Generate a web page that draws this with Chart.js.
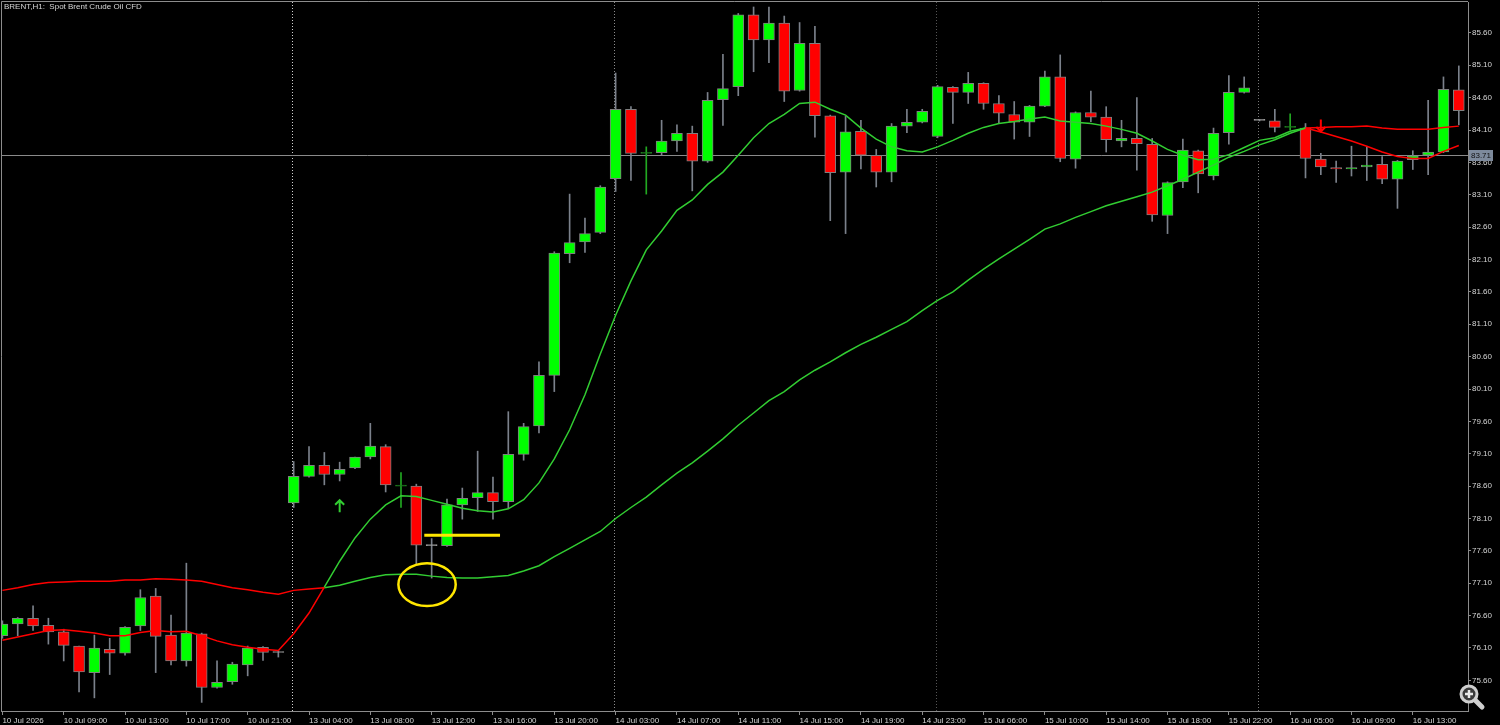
<!DOCTYPE html>
<html>
<head>
<meta charset="utf-8">
<title>BRENT, H1</title>
<script src="https://cdn.jsdelivr.net/npm/chart.js@4.4.1/dist/chart.umd.min.js"></script>
<style>
  html, body { margin: 0; padding: 0; background: #000; overflow: hidden; }
  #wrap { width: 1500px; height: 725px; }
</style>
</head>
<body>
<div id="wrap"><canvas id="chart" width="1500" height="725"></canvas></div>
<script>
// ---------- Data (H1 bars) ----------
const timeLabels = [
  "10 Jul 2026", "10 Jul 09:00", "10 Jul 13:00", "10 Jul 17:00", "10 Jul 21:00",
  "13 Jul 04:00", "13 Jul 08:00", "13 Jul 12:00", "13 Jul 16:00", "13 Jul 20:00",
  "14 Jul 03:00", "14 Jul 07:00", "14 Jul 11:00", "14 Jul 15:00", "14 Jul 19:00",
  "14 Jul 23:00", "15 Jul 06:00", "15 Jul 10:00", "15 Jul 14:00", "15 Jul 18:00",
  "15 Jul 22:00", "16 Jul 05:00", "16 Jul 09:00", "16 Jul 13:00"
];

const priceTicks = [75.60, 76.10, 76.60, 77.10, 77.60, 78.10, 78.60, 79.10, 79.60, 80.10, 80.60,
  81.10, 81.60, 82.10, 82.60, 83.10, 83.60, 84.10, 84.60, 85.10, 85.60];

const opens = [76.29, 76.47, 76.56, 76.45, 76.35, 76.13, 75.72, 76.08, 76.02, 76.44,
  76.90, 76.30, 75.90, 76.32, 75.49, 75.58, 75.84, 76.11, 76.03, 78.34,
  78.75, 78.92, 78.78, 78.88, 79.05, 79.21, 78.60, 78.60, 77.68, 77.68,
  78.31, 78.42, 78.50, 78.36, 79.09, 79.53, 80.31, 82.19, 82.37, 82.52,
  83.35, 84.42, 83.74, 83.75, 83.93, 84.05, 83.62, 84.57, 84.77, 85.88,
  85.49, 85.75, 84.71, 85.44, 84.32, 83.45, 84.08, 83.71, 83.45, 84.16,
  84.22, 84.00, 84.76, 84.68, 84.82, 84.51, 84.34, 84.22, 84.47, 84.92,
  83.65, 84.37, 84.30, 83.93, 83.97, 83.88, 82.78, 83.30, 83.78, 83.39,
  84.06, 84.68, 84.25, 84.24, 84.14, 84.13, 83.65, 83.52, 83.50, 83.53,
  83.57, 83.34, 83.64, 83.71, 83.76, 84.72];

const highs = [76.52, 76.57, 76.75, 76.56, 76.39, 76.13, 76.30, 76.25, 76.43, 77.00,
  77.02, 76.61, 77.41, 76.33, 75.90, 75.88, 76.13, 76.12, 76.06, 78.98,
  79.21, 79.12, 78.97, 79.05, 79.57, 79.24, 78.81, 78.63, 77.79, 78.40,
  78.57, 79.14, 78.74, 79.75, 79.57, 80.52, 82.22, 83.11, 82.74, 83.24,
  84.98, 84.46, 83.84, 84.25, 84.18, 84.16, 84.68, 85.27, 85.90, 86.00,
  86.00, 85.86, 85.76, 85.70, 84.33, 84.31, 84.25, 83.80, 84.20, 84.42,
  84.42, 84.79, 84.77, 84.99, 84.83, 84.63, 84.54, 84.48, 85.01, 85.26,
  84.38, 84.70, 84.46, 84.25, 84.60, 83.97, 83.30, 83.96, 83.79, 84.13,
  84.94, 84.92, 84.26, 84.42, 84.35, 84.20, 83.74, 83.62, 83.85, 83.84,
  83.69, 83.63, 83.78, 84.56, 84.92, 85.09];

const lows = [76.25, 76.29, 76.37, 76.16, 75.90, 75.42, 75.33, 75.69, 75.99, 76.37,
  75.72, 75.84, 75.82, 75.26, 75.48, 75.54, 75.67, 75.91, 75.96, 78.27,
  78.74, 78.62, 78.68, 78.87, 79.02, 78.51, 78.27, 77.40, 77.18, 77.67,
  78.09, 78.21, 78.09, 78.26, 79.00, 79.42, 80.06, 82.05, 82.21, 82.50,
  83.15, 83.32, 83.11, 83.71, 83.77, 83.16, 83.60, 84.17, 84.63, 85.00,
  85.14, 84.54, 84.70, 83.99, 82.70, 82.50, 83.50, 83.22, 83.30, 84.06,
  84.21, 83.98, 84.20, 84.51, 84.42, 84.20, 83.96, 84.00, 84.46, 83.61,
  83.51, 84.23, 83.76, 83.84, 83.48, 82.69, 82.50, 83.21, 83.13, 83.33,
  83.88, 84.67, 84.24, 84.07, 84.10, 83.36, 83.41, 83.29, 83.39, 83.32,
  83.27, 82.89, 83.49, 83.41, 83.75, 84.18];

const closes = [76.47, 76.56, 76.44, 76.35, 76.14, 75.73, 76.10, 76.02, 76.42, 76.88,
  76.28, 75.90, 76.33, 75.49, 75.57, 75.85, 76.10, 76.03, 76.03, 78.75,
  78.92, 78.78, 78.86, 79.05, 79.22, 78.62, 78.60, 77.69, 77.68, 78.31,
  78.41, 78.50, 78.36, 79.09, 79.52, 80.31, 82.20, 82.36, 82.50, 83.22,
  84.42, 83.74, 83.74, 83.93, 84.05, 83.62, 84.56, 84.74, 85.88, 85.49,
  85.75, 84.70, 85.44, 84.32, 83.44, 84.07, 83.71, 83.45, 84.16, 84.22,
  84.39, 84.77, 84.68, 84.82, 84.51, 84.36, 84.22, 84.47, 84.92, 83.66,
  84.37, 84.30, 83.95, 83.97, 83.89, 82.79, 83.29, 83.79, 83.42, 84.05,
  84.68, 84.75, 84.25, 84.14, 84.14, 83.66, 83.53, 83.50, 83.52, 83.56,
  83.34, 83.62, 83.70, 83.76, 84.73, 84.40];

// fast / slow moving averages
const fastMA = [76.22, 76.27, 76.32, 76.37, 76.38, 76.36, 76.33, 76.29, 76.29, 76.34,
  76.37, 76.35, 76.36, 76.29, 76.21, 76.15, 76.11, 76.08, 76.06, 76.32,
  76.64, 77.04, 77.44, 77.80, 78.09, 78.31, 78.45, 78.44, 78.38, 78.32,
  78.26, 78.22, 78.20, 78.25, 78.39, 78.65, 79.02, 79.47, 80.01, 80.64,
  81.24, 81.77, 82.25, 82.54, 82.86, 83.02, 83.26, 83.45, 83.71, 83.98,
  84.20, 84.34, 84.51, 84.53, 84.42, 84.33, 84.13, 83.96, 83.84, 83.78,
  83.76, 83.84, 83.94, 84.05, 84.14, 84.20, 84.23, 84.27, 84.30, 84.24,
  84.22, 84.20, 84.16, 84.11, 84.05, 83.93, 83.80, 83.71, 83.64, 83.65,
  83.72, 83.83, 83.94, 83.98, 84.08, 84.13, 84.07, 84.00, 83.93, 83.85,
  83.76, 83.69, 83.66, 83.66, 83.77, 83.86];

const slowMA = [76.99, 77.03, 77.08, 77.11, 77.12, 77.13, 77.13, 77.13, 77.15, 77.15,
  77.17, 77.16, 77.15, 77.13, 77.08, 77.03, 77.00, 76.96, 76.93, 76.99,
  77.01, 77.03, 77.07, 77.13, 77.19, 77.23, 77.24, 77.24, 77.21, 77.19,
  77.18, 77.18, 77.20, 77.22, 77.29, 77.37, 77.51, 77.64, 77.77, 77.90,
  78.10, 78.27, 78.43, 78.62, 78.80, 78.96, 79.14, 79.33, 79.54, 79.73,
  79.92, 80.06, 80.24, 80.39, 80.52, 80.66, 80.79, 80.90, 81.02, 81.14,
  81.31, 81.47, 81.60, 81.78, 81.95, 82.11, 82.26, 82.41, 82.57, 82.65,
  82.75, 82.84, 82.93, 83.00, 83.07, 83.14, 83.24, 83.34, 83.45, 83.56,
  83.68, 83.77, 83.87, 83.95, 84.05, 84.13, 84.14, 84.15, 84.15, 84.16,
  84.13, 84.11, 84.11, 84.11, 84.14, 84.16];

// chart objects
const lastPrice = 83.71;
const daySeparators = [19, 40, 61, 82];
const buyArrow = { bar: 22, price: 78.29 };
const sellArrow = { bar: 86, price: 84.17 };
const yellowLineBars = [27.52, 32.46];
const yellowLinePrices = [77.84, 77.84];
const yellowCircle = { bar: 27.70, price: 77.08, barRadius: 1.87, priceRadius: 0.33 };
const limeDoji = [26, 42, 84];

// ---------- Colours ----------
const BULL = "#00ff00";
const BEAR = "#ff0000";
const MA_UP = "#32cd32";
const MA_DOWN = "#ff0000";
const OUTLINE = "#7f7f7f";
const AXIS = "#8c8c8c";
const TEXT = "#d6d6d6";
const FONT = "'Liberation Sans', Arial, sans-serif";

function maColor(i) {
  return fastMA[i] > slowMA[i] ? MA_UP : MA_DOWN;
}

function bodyColor(i) {
  if (closes[i] > opens[i]) return BULL;
  if (closes[i] < opens[i]) return BEAR;
  return limeDoji.includes(i) ? "#1e7d1e" : "#9a9a9a";
}

// keep the plot area where the terminal puts it
function noPadding(s) {
  s.paddingTop = 0;
  s.paddingBottom = 0;
  s.paddingLeft = 0;
  s.paddingRight = 0;
}

// ---------- Decorations drawn with the chart's scales ----------
const mtDecor = {
  id: "mtDecor",
  beforeDatasetsDraw(chart) {
    const { ctx, chartArea: a, scales: { x, y } } = chart;
    ctx.save();
    // period separators
    const sepColors = ["#cfcfcf", "#8c8c8c", "#555555", "#777777"];
    ctx.lineWidth = 1;
    ctx.setLineDash([1, 2]);
    daySeparators.forEach((b, k) => {
      const px = Math.round(x.getPixelForValue(b)) - 1.5;
      ctx.strokeStyle = sepColors[k];
      ctx.beginPath();
      ctx.moveTo(px, a.top);
      ctx.lineTo(px, a.bottom);
      ctx.stroke();
    });
    ctx.setLineDash([]);
    // last price line
    const py = Math.round(y.getPixelForValue(lastPrice)) + 0.5;
    ctx.strokeStyle = "#8a8a8a";
    ctx.beginPath();
    ctx.moveTo(a.left, py);
    ctx.lineTo(a.right, py);
    ctx.stroke();
    ctx.restore();
  },
  afterDraw(chart) {
    const { ctx, chartArea: a, scales: { x, y } } = chart;
    ctx.save();

    // frame (left + top)
    ctx.strokeStyle = AXIS;
    ctx.lineWidth = 1;
    ctx.beginPath();
    ctx.moveTo(a.left + 0.5, a.bottom);
    ctx.lineTo(a.left + 0.5, a.top - 0.5);
    ctx.lineTo(a.right, a.top - 0.5);
    ctx.stroke();

    // yellow ellipse
    const cx = x.getPixelForValue(yellowCircle.bar);
    const cy = y.getPixelForValue(yellowCircle.price);
    const rx = Math.abs(x.getPixelForValue(yellowCircle.bar + yellowCircle.barRadius) - cx);
    const ry = Math.abs(y.getPixelForValue(yellowCircle.price + yellowCircle.priceRadius) - cy);
    ctx.strokeStyle = "#ffe600";
    ctx.lineWidth = 2.5;
    ctx.beginPath();
    ctx.ellipse(cx, cy, rx, ry, 0, 0, Math.PI * 2);
    ctx.stroke();

    // buy / sell arrows
    drawArrow(ctx, x.getPixelForValue(buyArrow.bar), y.getPixelForValue(buyArrow.price), 1, MA_UP);
    drawArrow(ctx, x.getPixelForValue(sellArrow.bar), y.getPixelForValue(sellArrow.price), -1, MA_DOWN);

    // price label on the axis
    const py = Math.round(y.getPixelForValue(lastPrice));
    ctx.fillStyle = "#7d8a9c";
    ctx.fillRect(a.right + 1, py - 5, 24, 11);
    ctx.fillStyle = "#111";
    ctx.font = "8px " + FONT;
    ctx.textBaseline = "middle";
    ctx.textAlign = "left";
    ctx.fillText(lastPrice.toFixed(2), a.right + 3, py + 0.5);

    // title
    ctx.fillStyle = TEXT;
    ctx.textBaseline = "top";
    ctx.fillText("BRENT,H1:  Spot Brent Crude Oil CFD", 4, 3);

    // zoom icon bottom right
    drawZoomIcon(ctx, 1469, 694);
    ctx.restore();
  }
};

function drawArrow(ctx, px, py, dir, col) {
  // dir 1 = up, -1 = down
  ctx.save();
  ctx.strokeStyle = col;
  ctx.lineWidth = 2;
  ctx.beginPath();
  ctx.moveTo(px, py + 6 * dir);
  ctx.lineTo(px, py - 6 * dir);
  ctx.moveTo(px - 4.5, py - 1.5 * dir);
  ctx.lineTo(px, py - 6 * dir);
  ctx.lineTo(px + 4.5, py - 1.5 * dir);
  ctx.stroke();
  ctx.restore();
}

function drawZoomIcon(ctx, cx, cy) {
  ctx.save();
  ctx.lineCap = "round";
  ctx.strokeStyle = "#cfcfcf";
  ctx.lineWidth = 5;
  ctx.beginPath();
  ctx.moveTo(cx + 6, cy + 6);
  ctx.lineTo(cx + 13, cy + 13);
  ctx.stroke();
  ctx.fillStyle = "#3a3a3a";
  ctx.lineWidth = 3;
  ctx.beginPath();
  ctx.arc(cx, cy, 8, 0, Math.PI * 2);
  ctx.fill();
  ctx.stroke();
  ctx.strokeStyle = "#e8e8e8";
  ctx.lineWidth = 2.5;
  ctx.lineCap = "butt";
  ctx.beginPath();
  ctx.moveTo(cx - 4, cy);
  ctx.lineTo(cx + 4, cy);
  ctx.moveTo(cx, cy - 4);
  ctx.lineTo(cx, cy + 4);
  ctx.stroke();
  ctx.restore();
}

// ---------- Chart ----------
const ctx = document.getElementById("chart").getContext("2d");

new Chart(ctx, {
  type: "bar",
  data: {
    datasets: [
      {
        type: "line",
        label: "Yellow line",
        data: yellowLineBars.map((b, i) => ({ x: b, y: yellowLinePrices[i] })),
        borderColor: "#ffe600",
        borderWidth: 3,
        pointRadius: 0,
        order: 0
      },
      {
        type: "line",
        label: "Fast MA",
        data: fastMA.map((v, i) => ({ x: i, y: v })),
        borderColor: MA_UP,
        borderWidth: 1.5,
        pointRadius: 0,
        tension: 0,
        segment: { borderColor: c => maColor(c.p0DataIndex) },
        order: 1
      },
      {
        type: "line",
        label: "Slow MA",
        data: slowMA.map((v, i) => ({ x: i, y: v })),
        borderColor: MA_UP,
        borderWidth: 1.5,
        pointRadius: 0,
        tension: 0,
        segment: { borderColor: c => maColor(c.p0DataIndex) },
        order: 1
      },
      {
        label: "Body",
        data: opens.map((o, i) => ({ x: i, y: [o, closes[i]] })),
        grouped: false,
        barThickness: 11,
        minBarLength: 1,
        borderWidth: 1,
        borderSkipped: false,
        backgroundColor: c => bodyColor(c.dataIndex),
        borderColor: c => (limeDoji.includes(c.dataIndex) ? "#1e7d1e" :
          (opens[c.dataIndex] === closes[c.dataIndex] ? "#9a9a9a" : OUTLINE)),
        order: 2
      },
      {
        label: "Wick",
        data: lows.map((l, i) => ({ x: i, y: [l, highs[i]] })),
        grouped: false,
        barThickness: 1,
        borderWidth: 0,
        backgroundColor: c => (limeDoji.includes(c.dataIndex) ? "#22a822" : "#7b818b"),
        order: 3
      }
    ]
  },
  options: {
    responsive: false,
    animation: false,
    devicePixelRatio: 1,
    layout: { padding: { left: 1, top: 2, right: 0, bottom: 0 } },
    plugins: {
      legend: { display: false },
      tooltip: { enabled: false }
    },
    scales: {
      x: {
        type: "linear",
        min: -0.091,
        max: 95.6,
        offset: false,
        afterBuildTicks: s => { s.ticks = timeLabels.map((t, i) => ({ value: i * 4 })); },
        afterFit: s => { s.height = 14; noPadding(s); },
        ticks: {
          autoSkip: false,
          maxRotation: 0,
          align: "start",
          padding: 1,
          color: TEXT,
          font: { family: FONT, size: 8 },
          callback: (v, i) => timeLabels[i]
        },
        grid: { drawOnChartArea: false, drawTicks: true, tickLength: 4, color: AXIS, offset: false },
        border: { display: true, color: AXIS }
      },
      y: {
        position: "right",
        min: 75.127,
        max: 86.077,
        afterBuildTicks: s => { s.ticks = priceTicks.map(v => ({ value: v })); },
        afterFit: s => { s.width = 32; noPadding(s); },
        ticks: {
          padding: 1,
          color: TEXT,
          font: { family: FONT, size: 8 },
          callback: v => v.toFixed(2)
        },
        grid: { drawOnChartArea: false, drawTicks: true, tickLength: 3, color: AXIS },
        border: { display: true, color: AXIS }
      }
    }
  },
  plugins: [mtDecor]
});
</script>
</body>
</html>
